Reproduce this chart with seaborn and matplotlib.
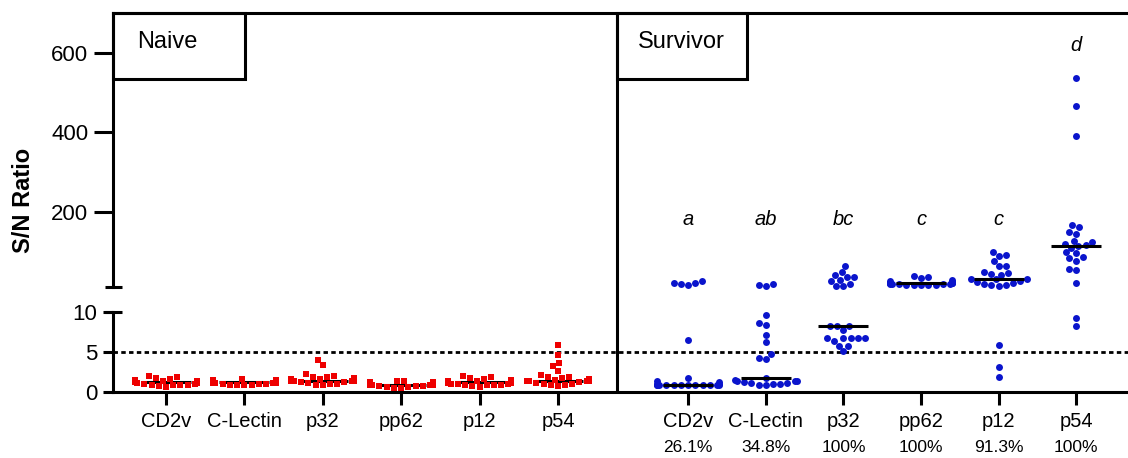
import numpy as np
import pandas as pd
import matplotlib
matplotlib.use("Agg")
import matplotlib.pyplot as plt
import seaborn as sns
from matplotlib import transforms
from matplotlib.lines import Line2D
from matplotlib.patches import Rectangle
import warnings
warnings.filterwarnings("ignore")

# ---------------- data ----------------
antigens = ["CD2v", "C-Lectin", "p32", "pp62", "p12", "p54"]
percent_labels = ["26.1%", "34.8%", "100%", "100%", "91.3%", "100%"]
letters = ["a", "ab", "bc", "c", "c", "d"]
cutoff = 5

naive_cd2v = [2.0, 1.8, 1.7, 1.6, 1.5, 1.5, 1.4, 1.3, 1.3, 1.2, 1.2, 1.2, 1.1, 1.1, 1.0, 1.0, 0.9, 0.9, 0.8, 0.8, 0.7, 0.6, 1.4]
naive_clectin = [1.6, 1.5, 1.5, 1.4, 1.4, 1.3, 1.3, 1.3, 1.2, 1.2, 1.2, 1.1, 1.1, 1.1, 1.1, 1.0, 1.0, 1.0, 0.9, 0.9, 0.9, 0.8, 1.2]
naive_p32 = [4.0, 3.3, 2.2, 2.0, 1.8, 1.7, 1.6, 1.6, 1.5, 1.5, 1.4, 1.4, 1.4, 1.3, 1.3, 1.2, 1.2, 1.1, 1.0, 1.0, 0.9, 0.8, 1.9]
naive_pp62 = [1.4, 1.3, 1.2, 1.2, 1.1, 1.1, 1.0, 1.0, 1.0, 0.9, 0.9, 0.9, 0.8, 0.8, 0.8, 0.7, 0.7, 0.7, 0.6, 0.6, 0.5, 0.5, 0.9]
naive_p12 = [2.0, 1.8, 1.7, 1.6, 1.5, 1.4, 1.4, 1.3, 1.3, 1.2, 1.2, 1.1, 1.1, 1.0, 1.0, 1.0, 0.9, 0.9, 0.8, 0.8, 0.7, 0.6, 1.2]
naive_p54 = [5.9, 4.6, 3.6, 3.2, 2.6, 2.1, 1.8, 1.7, 1.6, 1.5, 1.4, 1.4, 1.4, 1.3, 1.3, 1.2, 1.1, 1.0, 1.0, 0.9, 0.8, 0.7, 1.9]

surv_cd2v = [21, 15, 24, 19, 17, 6.5, 1.7, 1.4, 1.2, 1.0, 0.9, 0.9, 0.8, 0.8, 0.8, 0.8, 0.8, 0.8, 0.8, 0.8, 0.9, 0.9, 1.0]
surv_clectin = [18, 14, 12, 9.7, 8.6, 8.4, 7.2, 6.2, 4.7, 4.2, 4.1, 0.8, 0.9, 1.0, 1.0, 1.1, 1.1, 1.2, 1.3, 1.3, 1.4, 1.5, 1.7]
surv_p32 = [64, 48, 35, 40, 35, 24, 28, 12, 18, 12, 8.3, 8.3, 8.3, 7.8, 6.8, 6.8, 6.8, 6.8, 6.8, 6.4, 5.8, 5.8, 5.1]
surv_pp62 = [38, 36, 33, 28, 25, 22, 22, 21, 20, 20, 19, 19, 18, 18, 18, 17, 17, 16, 16, 15, 15, 14, 20]
surv_p12 = [98, 90, 88, 75, 64, 62, 49, 45, 43, 40, 31, 30, 29, 24, 22, 20, 18, 16, 14, 13, 5.9, 3.1, 1.8]
surv_p54 = [536, 466, 390, 165, 160, 148, 144, 127, 124, 118, 115, 113, 108, 97, 95, 85, 82, 76, 55, 52, 21, 9.3, 8.3]

naive_vals = [naive_cd2v, naive_clectin, naive_p32, naive_pp62, naive_p12, naive_p54]
surv_vals = [surv_cd2v, surv_clectin, surv_p32, surv_pp62, surv_p12, surv_p54]

# ---------------- layout ----------------
W, H = 1128, 458
naive_pos = np.arange(6) * 1.0
surv_pos = 6.66 + 0.99 * np.arange(6)
sep_x = 5.75
BREAK = 10

rows = []
for i, vals in enumerate(naive_vals):
    for v in vals:
        rows.append(("Naive", antigens[i], naive_pos[i], v))
for i, vals in enumerate(surv_vals):
    for v in vals:
        rows.append(("Survivor", antigens[i], surv_pos[i], v))
df = pd.DataFrame(rows, columns=["group", "antigen", "pos", "value"])

sns.set_theme(style="white")
plt.rcParams["font.family"] = ["Liberation Sans", "DejaVu Sans"]
plt.rcParams.update({"text.color": "black", "axes.labelcolor": "black",
                     "xtick.color": "black", "ytick.color": "black",
                     "xtick.labelcolor": "black", "ytick.labelcolor": "black"})

RED = "#EE0000"
BLUE = "#0A14CC"
LW = 2.2

fig = plt.figure(figsize=(W / 100, H / 100), dpi=100)
fx = lambda px: px / W
fy = lambda py: 1 - py / H
left = fx(113)
ax_top = fig.add_axes([left, fy(287), 1.0 - left, fy(13) - fy(287)])
ax_bot = fig.add_axes([left, fy(391.7), 1.0 - left, fy(312.3) - fy(391.7)])

low = df[df.value <= BREAK]
high = df[df.value > BREAK]

sns.swarmplot(data=low[low.group == "Naive"], x="pos", y="value", native_scale=True,
              orient="v", ax=ax_bot, color=RED, marker="s", size=5.0, linewidth=0, zorder=2)
sns.swarmplot(data=low[low.group == "Survivor"], x="pos", y="value", native_scale=True,
              orient="v", ax=ax_bot, color=BLUE, marker="o", size=5.0, linewidth=0, zorder=2)
sns.swarmplot(data=high[high.group == "Survivor"], x="pos", y="value", native_scale=True,
              orient="v", ax=ax_top, color=BLUE, marker="o", size=5.0, linewidth=0, zorder=2)

for ax in (ax_top, ax_bot):
    for c in ax.collections:
        c.set_clip_on(False)

# medians
for pos_arr, vals_list, z in ((naive_pos, naive_vals, 1.5), (surv_pos, surv_vals, 3)):
    for p, vals in zip(pos_arr, vals_list):
        med = float(np.median(vals))
        ax = ax_top if med > BREAK else ax_bot
        ax.hlines(med, p - 0.32, p + 0.32, color="black", lw=LW, zorder=z, clip_on=False)

xlim = (-0.676, 12.27)
for ax in (ax_top, ax_bot):
    ax.set_xlim(*xlim)
    ax.set_xlabel("")
    ax.set_ylabel("")
    ax.set_facecolor("none")
ax_top.set_ylim(BREAK, 700)
ax_bot.set_ylim(0, BREAK)

# cutoff line
ax_bot.axhline(cutoff, color="black", lw=2.0, ls=(0, (1.6, 1.2)), zorder=1)

# spines
for s in ("bottom", "right"):
    ax_top.spines[s].set_visible(False)
for s in ("top", "right"):
    ax_bot.spines[s].set_visible(False)
for ax in (ax_top, ax_bot):
    for s in ax.spines.values():
        s.set_linewidth(LW)
        s.set_color("black")

ax_top.set_yticks([200, 400, 600])
ax_top.tick_params(axis="y", length=13.7, width=LW, labelsize=16, pad=4, color="black",
                   labelcolor="black", left=True)
ax_top.tick_params(axis="x", bottom=False, labelbottom=False)
ax_bot.set_yticks([0, 5, 10])
ax_bot.tick_params(axis="y", length=7.2, width=LW, labelsize=16, pad=4, color="black",
                   labelcolor="black", left=True)
ax_bot.set_xticks(list(naive_pos) + list(surv_pos))
ax_bot.set_xticklabels(antigens + antigens)
ax_bot.tick_params(axis="x", length=9.4, width=LW, labelsize=14.5, pad=5.5, color="black",
                   labelcolor="black", bottom=True)

# separator between panels
blend = transforms.blended_transform_factory(ax_bot.transData, fig.transFigure)
fig.add_artist(Line2D([sep_x, sep_x], [fy(13), fy(391.7)], transform=blend,
                      color="black", lw=LW, solid_capstyle="butt"))

# axis break caps
for py in (287, 312.3):
    fig.add_artist(Line2D([fx(104.5), fx(122)], [fy(py), fy(py)], transform=fig.transFigure,
                          color="black", lw=LW, solid_capstyle="butt"))

# panel label boxes
for x0, x1, label, tx in ((113, 245.5, "Naive", 137), (617, 746.7, "Survivor", 638)):
    fig.add_artist(Rectangle((fx(x0), fy(79)), fx(x1) - fx(x0), fy(13) - fy(79),
                             transform=fig.transFigure, fill=False, ec="black", lw=LW))
    fig.text(fx(tx), fy(42), label, fontsize=17, ha="left", va="center", color="black")

# significance letters
letter_y = [165, 165, 165, 165, 165, 605]
for p, t, yv in zip(surv_pos, letters, letter_y):
    ax_top.text(p, yv, t, fontsize=14.5, fontstyle="italic", ha="center", va="baseline",
                color="black")

# percent positives
for p, t in zip(surv_pos, percent_labels):
    fig.text(p, fy(448), t, transform=blend, fontsize=12.5, ha="center", va="center",
             color="black")

fig.text(fx(24), fy(200), "S/N Ratio", rotation=90, fontsize=17, fontweight="bold",
         ha="center", va="center", color="black")

fig.savefig("out.png", dpi=100)
